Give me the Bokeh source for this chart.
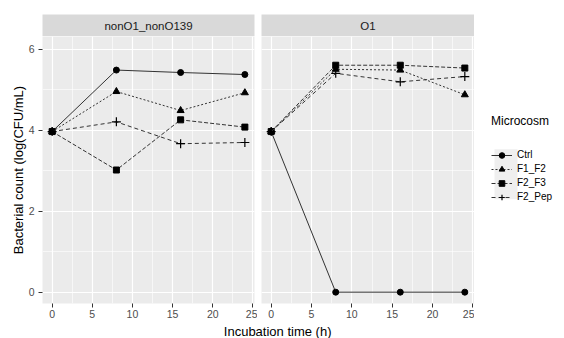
from bokeh.plotting import figure
from bokeh.models import (Range1d, Label, Legend, LegendItem, SingleIntervalTicker, GridBox,
                          Grid)
from bokeh.embed import file_html
from bokeh.resources import INLINE

# ---------------- data ----------------
time_h = [0, 8, 16, 24]
series_names = ["Ctrl", "F1_F2", "F2_F3", "F2_Pep"]
panel_names = ["nonO1_nonO139", "O1"]

non_ctrl = [3.97, 5.49, 5.43, 5.38]
non_f1f2 = [3.97, 4.96, 4.49, 4.93]
non_f2f3 = [3.97, 3.02, 4.26, 4.08]
non_f2pep = [3.97, 4.21, 3.67, 3.70]

o1_ctrl = [3.97, 0.0, 0.0, 0.0]
o1_f1f2 = [3.97, 5.51, 5.49, 4.88]
o1_f2f3 = [3.97, 5.61, 5.61, 5.54]
o1_f2pep = [3.97, 5.41, 5.20, 5.33]

x_ticks = [0, 5, 10, 15, 20, 25]
y_ticks = [0, 2, 4, 6]

panel_data = [
    [non_ctrl, non_f1f2, non_f2f3, non_f2pep],
    [o1_ctrl, o1_f1f2, o1_f2f3, o1_f2pep],
]

# ---------------- styles ----------------
FONT = "Liberation Sans"
LINE_COLOR = "#333333"
dashes = {"Ctrl": "solid", "F1_F2": "2 2", "F2_F3": "4 2", "F2_Pep": "4 3"}
markers = {"Ctrl": ("circle", 6), "F1_F2": ("triangle", 7),
           "F2_F3": ("square", 6), "F2_Pep": ("cross", 9)}

XR = (-1.2, 25.2)
YR = (-0.28, 6.32)

LEFT_B = 42
FRAME_W1 = 212
GAP_R1 = 3
GAP_L2 = 4
FRAME_W2 = 213
LEG_W = 88
TOP_B = 14
STRIP_H = 22
FRAME_H = 267
BOT_B = 20
TITLE_H = 15


def make_strip(text, w, left, right):
    s = figure(width=w, height=TOP_B + STRIP_H, x_range=Range1d(0, 1), y_range=Range1d(0, 1),
               x_axis_type=None, y_axis_type=None, toolbar_location=None,
               output_backend="svg", min_border_left=left, min_border_right=right,
               min_border_top=TOP_B, min_border_bottom=0)
    s.background_fill_color = "#D9D9D9"
    s.border_fill_color = "white"
    s.outline_line_color = None
    s.grid.visible = False
    s.add_layout(Label(x=0.5, y=0.5, text=text, text_align="center", text_baseline="middle",
                       text_font=FONT, text_font_size="11.5px", text_color="#1A1A1A"))
    return s


def style_grid(g):
    g.grid_line_color = "white"
    g.grid_line_width = 1.2
    g.minor_grid_line_color = "white"
    g.minor_grid_line_width = 0.6


def make_panel(w, left, right, show_y):
    p = figure(width=w, height=FRAME_H + BOT_B, x_range=Range1d(*XR), y_range=Range1d(*YR),
               toolbar_location=None, output_backend="svg",
               y_axis_type="linear" if show_y else None,
               min_border_left=left, min_border_right=right, min_border_top=0,
               min_border_bottom=BOT_B)
    p.background_fill_color = "#EBEBEB"
    p.border_fill_color = "white"
    p.outline_line_color = None
    xt = SingleIntervalTicker(interval=5, num_minor_ticks=2)
    yt = SingleIntervalTicker(interval=2, num_minor_ticks=2)
    p.xaxis.ticker = xt
    p.xgrid.ticker = xt
    style_grid(p.xgrid[0])
    if show_y:
        p.yaxis.ticker = yt
        p.ygrid.ticker = yt
        style_grid(p.ygrid[0])
    else:
        g = Grid(dimension=1, ticker=yt)
        style_grid(g)
        p.add_layout(g)
    for ax in list(p.xaxis) + list(p.yaxis):
        ax.axis_line_color = None
        ax.major_tick_line_color = "#333333"
        ax.major_tick_out = 4
        ax.major_tick_in = 0
        ax.minor_tick_line_color = None
        ax.major_label_text_font = FONT
        ax.major_label_text_font_size = "10.5px"
        ax.major_label_text_color = "#4D4D4D"
    p.xaxis.major_label_standoff = 2
    if show_y:
        p.yaxis.major_label_standoff = 4
        p.yaxis.axis_label = "Bacterial count (log(CFU/mL)"
        p.yaxis.axis_label_text_font = FONT
        p.yaxis.axis_label_text_font_size = "13px"
        p.yaxis.axis_label_text_font_style = "normal"
        p.yaxis.axis_label_text_color = "black"
        p.yaxis.axis_label_standoff = 0
    return p


W1 = LEFT_B + FRAME_W1 + GAP_R1
W2 = GAP_L2 + FRAME_W2
strip1 = make_strip(panel_names[0], W1, LEFT_B, GAP_R1)
strip2 = make_strip(panel_names[1], W2, GAP_L2, 0)
p1 = make_panel(W1, LEFT_B, GAP_R1, True)
p2 = make_panel(W2, GAP_L2, 0, False)

for p, values in zip((p1, p2), panel_data):
    for name, ys in zip(series_names, values):
        p.line(time_h, ys, line_color=LINE_COLOR, line_width=1, line_dash=dashes[name])
        mk, sz = markers[name]
        p.scatter(time_h, ys, marker=mk, size=sz, fill_color="black",
                  line_color="black", line_width=1.2 if mk == "cross" else 1)

# legend figure (its renderers use the data but sit outside its visible range)
LEG_H = TOP_B + STRIP_H + FRAME_H + BOT_B
lf = figure(width=LEG_W, height=LEG_H, x_range=Range1d(1000, 1001), y_range=Range1d(1000, 1001),
            x_axis_type=None, y_axis_type=None, toolbar_location=None, output_backend="svg",
            min_border_left=0, min_border_right=0, min_border_top=0, min_border_bottom=0)
lf.outline_line_color = None
lf.grid.visible = False
lf.background_fill_color = "white"
lf.border_fill_color = "white"

L_PAD = 4
L_MARGIN = 17
L_TITLE_H = 14
L_STANDOFF = 20
L_ITEM_H = 14
L_GLYPH_W = 21

# light grey key background (ggplot legend.key), placed where the legend's glyph column sits
leg_total_h = 2 * L_PAD + L_TITLE_H + L_STANDOFF + len(series_names) * L_ITEM_H
key_top_px = (LEG_H - leg_total_h) / 2 + L_PAD + L_TITLE_H + L_STANDOFF
key_bot_px = key_top_px + len(series_names) * L_ITEM_H
key_left_px = L_MARGIN + L_PAD - 1
key_right_px = key_left_px + L_GLYPH_W + 2
lf.quad(left=[1000 + key_left_px / LEG_W], right=[1000 + key_right_px / LEG_W],
        top=[1001 - key_top_px / LEG_H], bottom=[1001 - key_bot_px / LEG_H],
        fill_color="#EFEFEF", line_color=None)

items = []
for name, ys in zip(series_names, panel_data[0]):
    mk, sz = markers[name]
    lr = lf.line(time_h, ys, line_color=LINE_COLOR, line_width=1, line_dash=dashes[name])
    sr = lf.scatter(time_h, ys, marker=mk, size=sz, fill_color="black", line_color="black",
                    line_width=1.2 if mk == "cross" else 1)
    items.append(LegendItem(label=name, renderers=[lr, sr]))

legend = Legend(items=items, title="Microcosm", location="center_left")
legend.title_text_font = FONT
legend.title_text_font_size = "12px"
legend.title_text_font_style = "normal"
legend.title_text_color = "black"
legend.title_standoff = L_STANDOFF
legend.label_text_font = FONT
legend.label_text_font_size = "10px"
legend.label_text_color = "black"
legend.glyph_width = L_GLYPH_W
legend.glyph_height = L_ITEM_H
legend.label_height = L_ITEM_H
legend.label_standoff = 5
legend.spacing = 0
legend.padding = L_PAD
legend.margin = L_MARGIN
legend.background_fill_alpha = 0
legend.border_line_color = None
lf.add_layout(legend)

# shared x-axis title
total_w = W1 + W2
tf = figure(width=total_w, height=TITLE_H, x_range=Range1d(0, total_w), y_range=Range1d(0, 1),
            x_axis_type=None, y_axis_type=None, toolbar_location=None, output_backend="svg",
            min_border_left=0, min_border_right=0, min_border_top=0, min_border_bottom=0)
tf.outline_line_color = None
tf.grid.visible = False
tf.border_fill_color = "white"
tf.background_fill_color = "white"
tf.add_layout(Label(x=(LEFT_B + W1 + GAP_L2 + FRAME_W2) / 2, y=0.5, text="Incubation time (h)",
                    text_align="center", text_baseline="middle", text_font=FONT,
                    text_font_size="13px", text_color="black"))

layout = GridBox(children=[(strip1, 0, 0), (strip2, 0, 1), (p1, 1, 0), (p2, 1, 1),
                           (lf, 0, 2, 2, 1), (tf, 2, 0, 1, 2)], spacing=0)

open("out.html", "w").write(file_html(layout, INLINE))
